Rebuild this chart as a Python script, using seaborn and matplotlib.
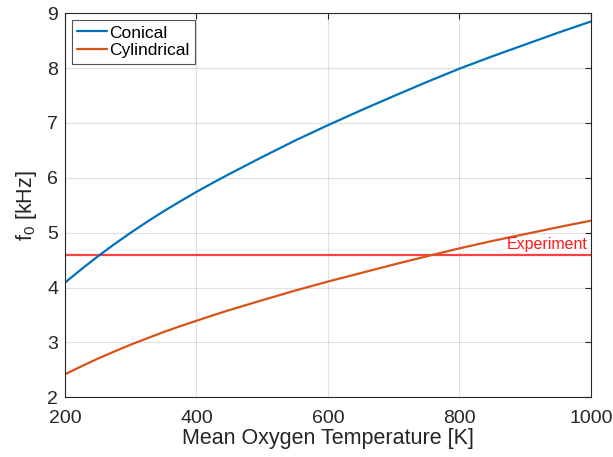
import matplotlib
matplotlib.use("Agg")
import matplotlib.pyplot as plt
import seaborn as sns
import pandas as pd

# Mean oxygen temperature [K]
temperature = [200, 225, 250, 275, 300, 325, 350, 375, 400, 425, 450, 475,
               500, 550, 600, 650, 700, 750, 800, 850, 900, 950, 1000]
# Fundamental frequency [kHz] for each resonator geometry
f0_conical = [4.09, 4.335, 4.57, 4.79, 5.00, 5.20, 5.39, 5.57, 5.745, 5.91,
              6.07, 6.225, 6.38, 6.68, 6.96, 7.23, 7.49, 7.745, 7.99, 8.215,
              8.43, 8.645, 8.85]
f0_cylindrical = [2.42, 2.565, 2.705, 2.835, 2.96, 3.075, 3.19, 3.295, 3.395,
                  3.495, 3.59, 3.68, 3.77, 3.945, 4.11, 4.265, 4.42, 4.57,
                  4.715, 4.85, 4.975, 5.10, 5.22]
experiment_f0 = 4.60
series_names = ["Conical", "Cylindrical"]
x_ticks = [200, 400, 600, 800, 1000]
y_ticks = [2, 3, 4, 5, 6, 7, 8, 9]

df = pd.DataFrame({
    "T": temperature * 2,
    "f0": f0_conical + f0_cylindrical,
    "geometry": [series_names[0]] * len(temperature) + [series_names[1]] * len(temperature),
})

sns.set_style("white")
plt.rcParams["font.family"] = ["Liberation Sans", "DejaVu Sans"]
plt.rcParams["mathtext.fontset"] = "custom"
plt.rcParams["mathtext.rm"] = "Liberation Sans"
plt.rcParams["mathtext.it"] = "Liberation Sans"

fig = plt.figure(figsize=(6.13, 4.57), dpi=100)
ax = fig.add_axes([0.106, 0.1306, 0.858, 0.8404])

dark = "#262626"
palette = {"Conical": "#0072BD", "Cylindrical": "#D95319"}
sns.lineplot(data=df, x="T", y="f0", hue="geometry", palette=palette,
             linewidth=1.6, ax=ax, legend=True)

ax.axhline(experiment_f0, color="#FF4040", linewidth=1.6, zorder=1.5)
ax.text(995, experiment_f0 + 0.04, "Experiment", color="#FF1A1A",
        ha="right", va="bottom", fontsize=11.5)

ax.set_xlim(200, 1000)
ax.set_ylim(2, 9)
ax.set_xticks(x_ticks)
ax.set_yticks(y_ticks)
ax.grid(True, color="#000000", alpha=0.12, linewidth=0.8)
ax.set_axisbelow(True)

for s in ax.spines.values():
    s.set_visible(True)
    s.set_color(dark)
    s.set_linewidth(0.8)
ax.tick_params(axis="both", direction="in", length=4, width=0.8,
               colors=dark, labelsize=14, top=True, right=True,
               labelcolor=dark)
ax.tick_params(axis="x", pad=9)
ax.tick_params(axis="y", pad=5)

ax.set_xlabel("Mean Oxygen Temperature [K]", fontsize=15.5, color=dark, labelpad=1)
ax.set_ylabel(r"f$_{\mathrm{0}}$ [kHz]", fontsize=15.5, color=dark, labelpad=6)

leg = ax.legend(loc="upper left", fontsize=12.5, frameon=True, fancybox=False,
                handlelength=1.7, handletextpad=0.15, borderpad=0.3,
                labelspacing=0.15, borderaxespad=0.4)
leg.get_frame().set_edgecolor(dark)
leg.get_frame().set_linewidth(0.8)
for t in leg.get_texts():
    t.set_color("#000000")

fig.savefig("out.png", dpi=100)
